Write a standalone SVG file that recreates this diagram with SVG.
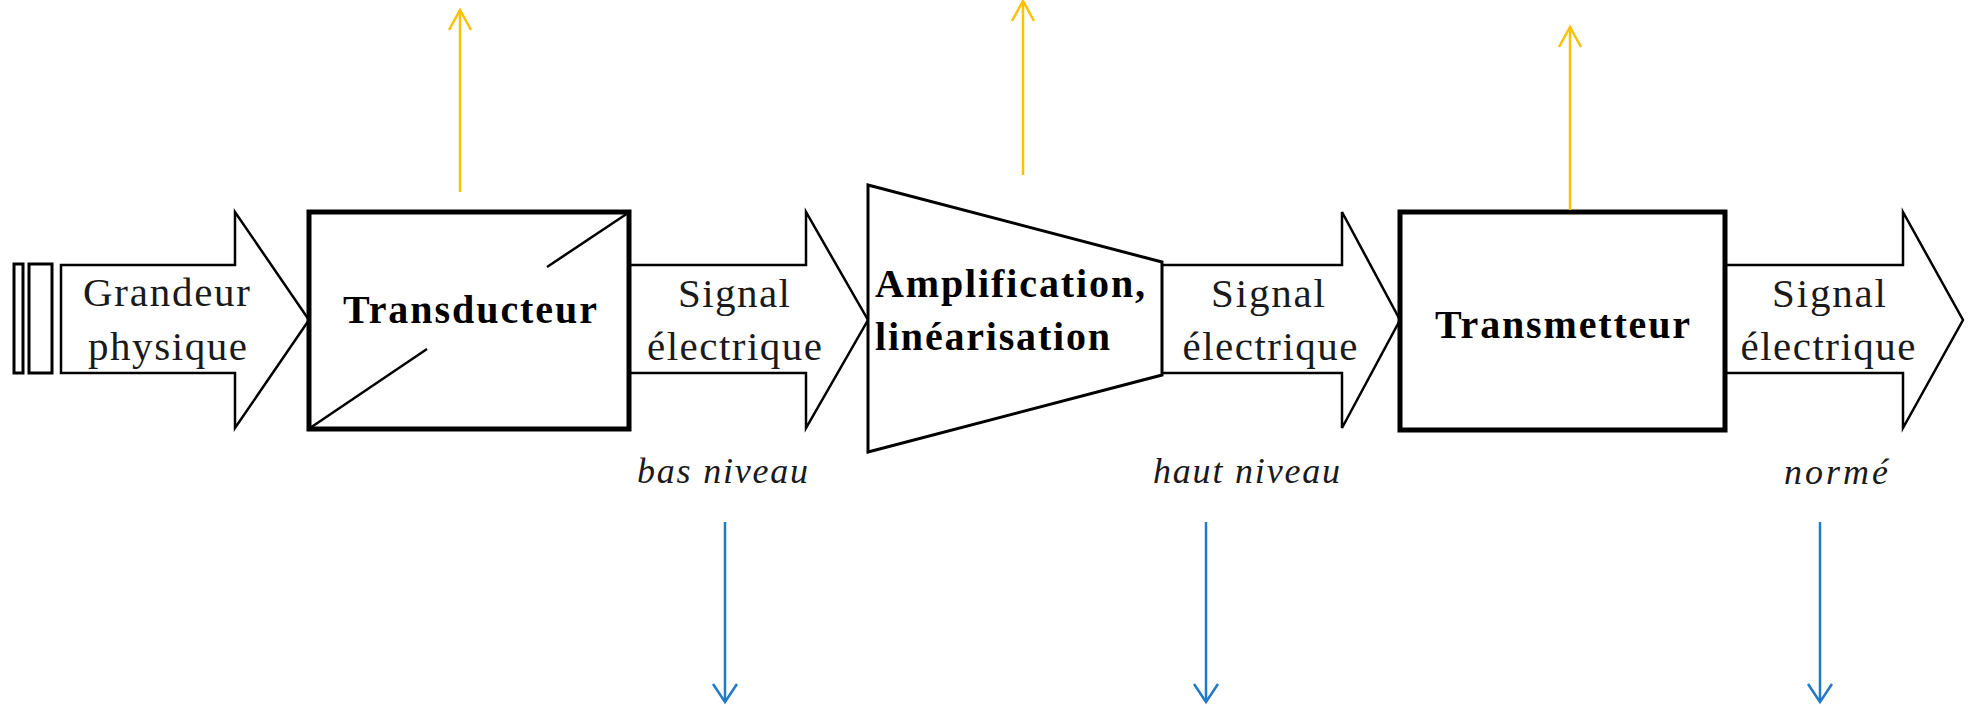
<svg xmlns="http://www.w3.org/2000/svg" width="1969" height="705" viewBox="0 0 1969 705">
<style>
.arr{fill:#fff;stroke:#000;stroke-width:2.5;stroke-linejoin:miter}
.box{fill:#fff;stroke:#000;stroke-width:5}
.thin{fill:none;stroke:#000;stroke-width:2.5}
.t{font-family:"Liberation Serif","Times New Roman",serif;font-size:41px;fill:#1a1a1a}
.b{font-weight:bold;fill:#000;font-size:40px}
.i{font-style:italic;font-size:36px}
.or{stroke:#FFC000;stroke-width:2.5;fill:none}
.bl{stroke:#2378C8;stroke-width:2.5;fill:none}
</style>
<defs>
<marker id="mo" viewBox="-22 -13 24 26" markerWidth="24" markerHeight="26" refX="0" refY="0" orient="auto" markerUnits="userSpaceOnUse" overflow="visible">
<path d="M-20,-11 L0,0 L-20,11" fill="none" stroke="#FFC000" stroke-width="2.5"/>
</marker>
<marker id="mb" viewBox="-22 -13 24 26" markerWidth="24" markerHeight="26" refX="0" refY="0" orient="auto" markerUnits="userSpaceOnUse" overflow="visible">
<path d="M-18,-12 L0,0 L-18,12" fill="none" stroke="#2378C8" stroke-width="2.5"/>
</marker>
</defs>
<g id="source">
<rect x="14" y="264" width="9" height="109" fill="#fff" stroke="#000" stroke-width="3"/>
<rect x="29" y="264" width="23" height="109" fill="#fff" stroke="#000" stroke-width="3"/>
</g>
<g id="arrow-grandeur">
<polygon class="arr" points="61,265 235,265 235,212 309,320 235,428 235,373 61,373"/>
<text class="t" x="166.5" y="306" text-anchor="middle" textLength="167" lengthAdjust="spacing">Grandeur</text>
<text class="t" x="167.5" y="360" text-anchor="middle" textLength="159" lengthAdjust="spacing">physique</text>
</g>
<g id="arrow-signal1">
<polygon class="arr" points="624,265 806,265 806,212 868,320 806,428 806,373 624,373"/>
<text class="t" x="734" y="307" text-anchor="middle" textLength="112" lengthAdjust="spacing">Signal</text>
<text class="t" x="734.5" y="360" text-anchor="middle" textLength="175" lengthAdjust="spacing">électrique</text>
</g>
<g id="transducteur">
<rect class="box" x="309" y="212" width="320" height="217"/>
<line class="thin" x1="310" y1="428" x2="427" y2="349"/>
<line class="thin" x1="547" y1="267" x2="628" y2="213"/>
<text class="t b" x="470" y="323" text-anchor="middle" textLength="254" lengthAdjust="spacing">Transducteur</text>
</g>
<g id="arrow-signal2">
<polygon class="arr" points="1160,265 1342,265 1342,212 1400,320 1342,428 1342,373 1160,373"/>
<text class="t" x="1268" y="307" text-anchor="middle" textLength="114" lengthAdjust="spacing">Signal</text>
<text class="t" x="1270" y="360" text-anchor="middle" textLength="175" lengthAdjust="spacing">électrique</text>
</g>
<g id="amplification">
<polygon fill="#fff" stroke="#000" stroke-width="3" points="868,185 1162,262 1162,375 868,452"/>
<text class="t b" x="875" y="297" textLength="270" lengthAdjust="spacing">Amplification,</text>
<text class="t b" x="875" y="350" textLength="235" lengthAdjust="spacing">linéarisation</text>
</g>
<g id="arrow-signal3">
<polygon class="arr" points="1720,265 1903,265 1903,212 1963,320 1903,428 1903,373 1720,373"/>
<text class="t" x="1829" y="307" text-anchor="middle" textLength="114" lengthAdjust="spacing">Signal</text>
<text class="t" x="1828" y="360" text-anchor="middle" textLength="175" lengthAdjust="spacing">électrique</text>
</g>
<g id="transmetteur">
<rect class="box" x="1400" y="212" width="325" height="218"/>
<text class="t b" x="1562.5" y="338" text-anchor="middle" textLength="255" lengthAdjust="spacing">Transmetteur</text>
</g>
<g id="labels">
<text class="t i" x="722.5" y="483" text-anchor="middle" textLength="171" lengthAdjust="spacing">bas niveau</text>
<text class="t i" x="1246.5" y="483" text-anchor="middle" textLength="187" lengthAdjust="spacing">haut niveau</text>
<text class="t i" x="1836" y="484" text-anchor="middle" textLength="104" lengthAdjust="spacing">normé</text>
</g>
<g id="connectors">
<line class="or" x1="460" y1="192" x2="460" y2="10" marker-end="url(#mo)"/>
<line class="or" x1="1023" y1="175" x2="1023" y2="1" marker-end="url(#mo)"/>
<line class="or" x1="1570" y1="210" x2="1570" y2="27" marker-end="url(#mo)"/>
<line class="bl" x1="725" y1="522" x2="725" y2="702" marker-end="url(#mb)"/>
<line class="bl" x1="1206" y1="522" x2="1206" y2="702" marker-end="url(#mb)"/>
<line class="bl" x1="1820" y1="522" x2="1820" y2="702" marker-end="url(#mb)"/>
</g>
</svg>
